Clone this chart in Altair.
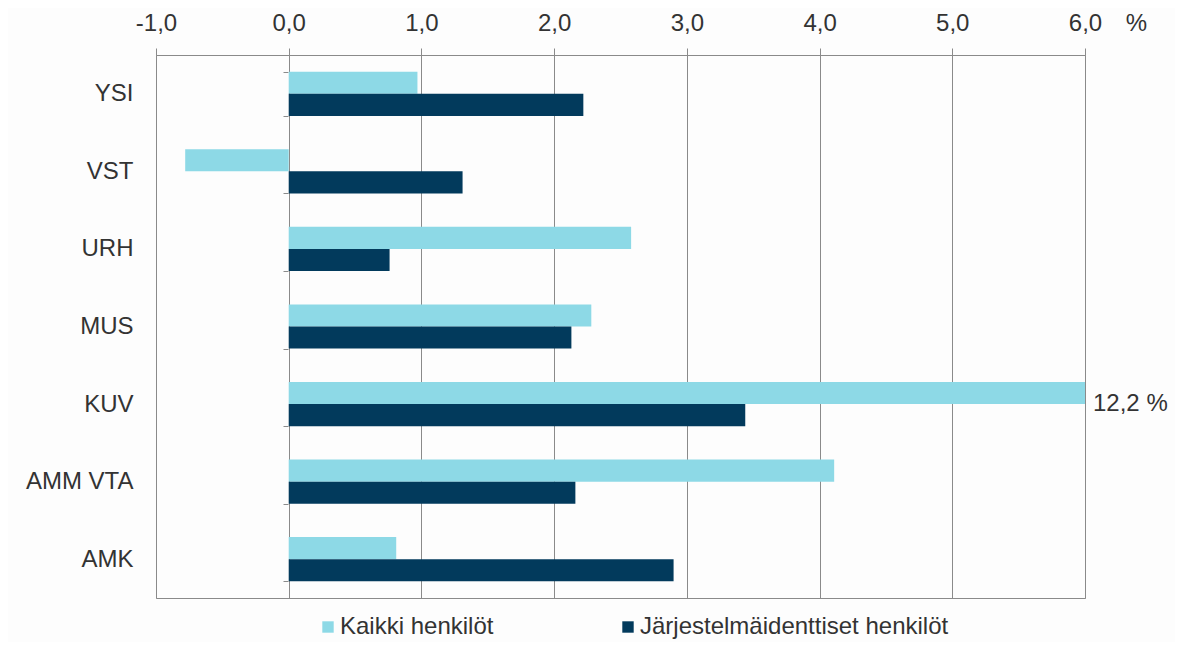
import altair as alt
import pandas as pd

categories = ["YSI", "VST", "URH", "MUS", "KUV", "AMM VTA", "AMK"]
series_names = ["Kaikki henkilöt", "Järjestelmäidenttiset henkilöt"]
kaikki = [0.97, -0.78, 2.58, 2.28, 12.2, 4.11, 0.81]
jarj = [2.22, 1.31, 0.76, 2.13, 3.44, 2.16, 2.90]
x_ticks = [-1, 0, 1, 2, 3, 4, 5, 6]
colors = ["#8DD9E6", "#023A5C"]

rows = []
for c, a, b in zip(categories, kaikki, jarj):
    rows.append({"cat": c, "series": series_names[0], "value": a})
    rows.append({"cat": c, "series": series_names[1], "value": b})
df = pd.DataFrame(rows)

FONT = "Liberation Sans"
FS = 24
TXT = "#333333"
W, H = 929, 543

x_scale = alt.Scale(domain=[-1, 6], nice=False, zero=False, clamp=True)
y_scale = alt.Scale(domain=categories, paddingInner=0.43, paddingOuter=0.215)
off_scale = alt.Scale(domain=series_names, paddingInner=0, paddingOuter=0)

x_axis = alt.Axis(
    orient="top", values=x_ticks, grid=True, gridColor="#8a8a8a", gridWidth=1,
    domainColor="#8a8a8a", tickColor="#8a8a8a", tickSize=7,
    labelExpr="replace(replace(format(datum.value, '.1f'), '.', ','), '\u2212', '-')",
    labelFont=FONT, labelFontSize=FS, labelColor=TXT, labelPadding=13,
    labelFlush=False, labelOverlap=False,
    title="%", titleFont=FONT, titleFontSize=FS, titleColor=TXT,
    titleFontWeight="normal", titleAngle=0, titleAlign="center",
    titleBaseline="middle", titleX=980, titleY=-32,
)
y_axis = alt.Axis(
    title=None, offset=-132, domain=False, ticks=True, tickBand="extent",
    tickSize=5, tickColor="#8a8a8a", labelFont=FONT, labelFontSize=FS,
    labelColor=TXT, labelPadding=150, grid=False,
)

bars = alt.Chart(df).mark_bar(clip=True).encode(
    x=alt.X("value:Q", scale=x_scale, axis=x_axis),
    x2=alt.datum(0),
    y=alt.Y("cat:N", scale=y_scale, axis=y_axis, sort=categories),
    yOffset=alt.YOffset("series:N", sort=series_names, scale=off_scale),
    color=alt.Color("series:N", scale=alt.Scale(domain=series_names, range=colors),
                    legend=alt.Legend(
                        title=None, orient="none", legendX=160, legendY=560,
                        direction="horizontal", symbolType="square", symbolSize=130,
                        symbolStrokeWidth=0, labelFont=FONT, labelFontSize=FS,
                        labelColor=TXT, columnPadding=122, labelOffset=0,
                        labelLimit=600)),
)

label = alt.Chart(df).transform_filter("datum.value > 6").transform_calculate(
    txt="replace(format(datum.value, '.1f'), '.', ',') + ' %'"
).mark_text(align="left", baseline="middle", dx=8, dy=11, font=FONT, fontSize=FS,
            color=TXT).encode(
    x=alt.X("value:Q", scale=x_scale),
    y=alt.Y("cat:N", scale=y_scale, sort=categories),
    yOffset=alt.YOffset("series:N", sort=series_names, scale=off_scale),
    text="txt:N",
)

chart = alt.layer(bars, label).properties(
    width=W, height=H,
    autosize=alt.AutoSizeParams(type="none"),
    padding={"left": 148, "top": 47, "right": 90, "bottom": 44},
    background="#fdfdfd",
).configure_view(stroke="#8a8a8a", strokeWidth=1)

chart.save("out.html", embed_options={"renderer": "svg", "actions": False})
